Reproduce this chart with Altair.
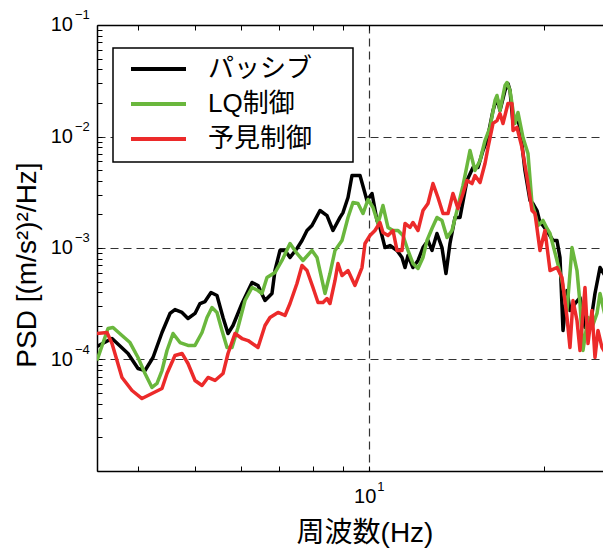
import altair as alt
import pandas as pd

# PSD of vertical acceleration for three control cases.
# Values are stored as log10(frequency [Hz]) and log10(PSD [(m/s^2)^2/Hz]).
series_names = ["パッシブ", "LQ制御", "予見制御"]
series_colors = ["#000000", "#6ab73d", "#ec2a2a"]

passive_logf = [0.5305, 0.5564, 0.5840, 0.6012, 0.6133, 0.6271, 0.6426, 0.6564, 0.6650, 0.6771,
                0.6874, 0.6995, 0.7081, 0.7167, 0.7271, 0.7374, 0.7478, 0.7564, 0.7650, 0.7805,
                0.7978, 0.8081, 0.8202, 0.8322, 0.8374, 0.8460, 0.8547, 0.8633, 0.8753, 0.8840,
                0.8926, 0.9012, 0.9150, 0.9271, 0.9374, 0.9495, 0.9547, 0.9633, 0.9702, 0.9840,
                0.9960, 1.0047, 1.0133, 1.0184, 1.0271, 1.0357, 1.0478, 1.0564, 1.0616, 1.0667,
                1.0753, 1.0840, 1.0926, 1.1012, 1.1081, 1.1167, 1.1253, 1.1322, 1.1391, 1.1478,
                1.1564, 1.1684, 1.1788, 1.1874, 1.1960, 1.2029, 1.2133, 1.2202, 1.2253, 1.2340,
                1.2391, 1.2426, 1.2478, 1.2547, 1.2598, 1.2684, 1.2771, 1.2822, 1.2891, 1.2943,
                1.2995, 1.3081, 1.3167, 1.3236, 1.3288, 1.3340, 1.3409, 1.3460, 1.3547, 1.3633,
                1.3719, 1.3805, 1.3891, 1.3978, 1.4064]
passive_logp = [-3.883, -3.812, -3.946, -4.081, -4.099, -3.982, -3.758, -3.587, -3.552, -3.578,
                -3.632, -3.587, -3.498, -3.480, -3.399, -3.426, -3.623, -3.767, -3.695, -3.498,
                -3.309, -3.336, -3.471, -3.408, -3.202, -3.022, -3.022, -3.085, -3.004, -2.933,
                -2.843, -2.798, -2.664, -2.709, -2.843, -2.726, -2.682, -2.547, -2.350, -2.350,
                -2.574, -2.511, -2.753, -2.816, -2.996, -2.978, -3.022, -3.085, -3.175, -3.067,
                -3.175, -3.112, -2.996, -2.933, -3.022, -2.870, -2.996, -3.229, -2.960, -2.726,
                -2.726, -2.395, -2.278, -2.278, -2.126, -2.036, -1.767, -1.650, -1.767, -1.587,
                -1.525, -1.587, -1.883, -1.830, -1.919, -2.305, -2.574, -2.601, -2.664, -2.771,
                -2.798, -2.861, -2.933, -2.933, -3.085, -3.740, -3.381, -3.561, -3.498, -3.444,
                -3.713, -3.713, -3.408, -3.175, -3.247]

lq_logf = [0.5305, 0.5495, 0.5581, 0.5736, 0.5874, 0.6012, 0.6133, 0.6253, 0.6340, 0.6426,
           0.6512, 0.6616, 0.6736, 0.6874, 0.6995, 0.7116, 0.7202, 0.7288, 0.7374, 0.7460,
           0.7547, 0.7633, 0.7736, 0.7857, 0.7978, 0.8081, 0.8150, 0.8236, 0.8374, 0.8495,
           0.8633, 0.8753, 0.8857, 0.9012, 0.9098, 0.9236, 0.9322, 0.9409, 0.9529, 0.9633,
           0.9719, 0.9805, 0.9891, 0.9978, 1.0064, 1.0150, 1.0236, 1.0322, 1.0409, 1.0495,
           1.0581, 1.0667, 1.0753, 1.0840, 1.0926, 1.0995, 1.1081, 1.1167, 1.1253, 1.1340,
           1.1426, 1.1512, 1.1616, 1.1702, 1.1736, 1.1822, 1.1909, 1.1995, 1.2081, 1.2167,
           1.2202, 1.2253, 1.2340, 1.2374, 1.2426, 1.2512, 1.2564, 1.2650, 1.2736, 1.2805,
           1.2857, 1.2909, 1.2995, 1.3064, 1.3116, 1.3236, 1.3322, 1.3409, 1.3495, 1.3581,
           1.3633, 1.3684, 1.3771, 1.3840, 1.3926, 1.3978, 1.4064]
lq_logp = [-4.009, -3.722, -3.713, -3.785, -3.848, -3.982, -4.126, -4.251, -4.215, -4.099,
           -3.919, -3.767, -3.848, -3.874, -3.874, -3.758, -3.623, -3.534, -3.578, -3.740,
           -3.892, -3.892, -3.713, -3.471, -3.354, -3.381, -3.408, -3.265, -3.220, -3.112,
           -2.960, -3.049, -3.112, -3.022, -3.085, -3.408, -3.229, -3.022, -2.933, -2.726,
           -2.592, -2.601, -2.691, -2.565, -2.637, -2.780, -2.619, -2.816, -2.843, -2.843,
           -2.888, -3.022, -3.139, -3.184, -3.085, -2.933, -2.825, -2.726, -2.753, -2.906,
           -2.843, -2.664, -2.439, -2.215, -2.126, -2.305, -2.215, -2.036, -1.919, -1.677,
           -1.632, -1.767, -1.543, -1.516, -1.587, -1.883, -1.785, -2.009, -2.152, -2.601,
           -2.691, -2.798, -2.753, -2.825, -2.870, -3.112, -3.291, -3.561, -2.996, -3.202,
           -3.498, -3.919, -3.623, -3.713, -3.587, -3.408, -3.605]

preview_logf = [0.5305, 0.5478, 0.5564, 0.5736, 0.5909, 0.6081, 0.6253, 0.6426, 0.6512, 0.6650,
                0.6771, 0.6874, 0.6995, 0.7116, 0.7219, 0.7340, 0.7478, 0.7564, 0.7684, 0.7805,
                0.7909, 0.8081, 0.8202, 0.8288, 0.8426, 0.8547, 0.8633, 0.8753, 0.8840, 0.8926,
                0.9029, 0.9116, 0.9202, 0.9271, 0.9322, 0.9409, 0.9460, 0.9529, 0.9633, 0.9753,
                0.9874, 0.9926, 1.0012, 1.0098, 1.0184, 1.0236, 1.0322, 1.0409, 1.0478, 1.0564,
                1.0616, 1.0702, 1.0753, 1.0840, 1.0926, 1.1012, 1.1098, 1.1184, 1.1271, 1.1357,
                1.1443, 1.1529, 1.1616, 1.1684, 1.1771, 1.1822, 1.1909, 1.1995, 1.2047, 1.2133,
                1.2202, 1.2253, 1.2305, 1.2391, 1.2460, 1.2478, 1.2547, 1.2633, 1.2719, 1.2805,
                1.2857, 1.2943, 1.3029, 1.3116, 1.3236, 1.3322, 1.3409, 1.3460, 1.3512, 1.3581,
                1.3633, 1.3719, 1.3771, 1.3840, 1.3891, 1.3943, 1.4012, 1.4064]
preview_logp = [-3.767, -3.758, -3.857, -4.161, -4.278, -4.350, -4.305, -4.260, -4.126, -3.964,
                -3.946, -4.036, -4.188, -4.233, -4.161, -4.188, -4.126, -3.946, -3.767, -3.812,
                -3.830, -3.892, -3.695, -3.623, -3.578, -3.605, -3.498, -3.318, -3.157, -3.202,
                -3.354, -3.489, -3.489, -3.453, -3.498, -3.291, -3.139, -3.247, -3.202, -3.336,
                -3.175, -2.960, -2.888, -2.843, -2.771, -2.861, -2.888, -2.843, -3.022, -3.022,
                -2.780, -2.816, -2.771, -2.843, -2.664, -2.601, -2.422, -2.547, -2.691, -2.691,
                -2.511, -2.646, -2.511, -2.395, -2.422, -2.350, -2.413, -2.242, -2.099, -1.883,
                -1.857, -1.794, -1.883, -1.704, -1.704, -1.946, -1.919, -2.099, -2.368, -2.664,
                -2.691, -3.022, -2.843, -3.202, -3.175, -3.265, -3.623, -3.892, -3.471, -3.650,
                -3.919, -3.354, -3.857, -3.561, -3.982, -3.740, -3.892, -3.937]

# axis limits and tick positions
x_limits = [3.3925, 25.29]
y_limits = [1e-5, 1e-1]
x_ticks = [4, 5, 6, 7, 8, 9, 10, 20]
y_ticks = [m * 10.0 ** e for e in range(-5, -1) for m in range(1, 10)] + [0.1]
y_label_exps = [-1, -2, -3, -4]
x_label_exps = [1]

frames = []
for name, lf, lp in zip(series_names,
                        [passive_logf, lq_logf, preview_logf],
                        [passive_logp, lq_logp, preview_logp]):
    assert len(lf) == len(lp)
    frames.append(pd.DataFrame({
        "series": name,
        "freq": [10.0 ** v for v in lf],
        "psd": [10.0 ** v for v in lp],
    }))
df = pd.concat(frames, ignore_index=True)

W, H = 506, 446
FONT = "Liberation Sans, Arial, Noto Sans CJK JP"
INWARD = {"expr": "-5"}

xscale = alt.Scale(type="log", domain=x_limits, nice=False)
yscale = alt.Scale(type="log", domain=y_limits, nice=False)
color_scale = alt.Scale(domain=series_names, range=series_colors)

is_decade = "abs(log(datum.value)/LN10 - round(log(datum.value)/LN10)) < 0.000001"

bottom_axis = alt.Axis(
    orient="bottom", values=x_ticks, labels=False, title=None,
    domainColor="black", domainWidth=1.5,
    tickColor="black", tickWidth=1, tickSize=INWARD,
    grid=True, gridColor="#333333", gridWidth=1.2, gridDash=[8, 5],
    gridOpacity={"condition": {"test": "datum.value == 10", "value": 1}, "value": 0},
)
top_axis = alt.Axis(
    orient="top", values=x_ticks, labels=False, title=None, grid=False,
    domainColor="black", domainWidth=1.5,
    tickColor="black", tickWidth=1, tickSize=INWARD,
)
left_axis = alt.Axis(
    orient="left", values=y_ticks, labels=False, title=None,
    domainColor="black", domainWidth=1.5,
    tickColor="black", tickWidth=1, tickSize=INWARD,
    grid=True, gridColor="#333333", gridWidth=1.2, gridDash=[8, 5],
    gridOpacity={"condition": {"test": is_decade, "value": 1}, "value": 0},
)

lines = alt.Chart(df).mark_line(strokeWidth=3.5, clip=True, strokeJoin="round").encode(
    x=alt.X("freq:Q", scale=xscale, axis=bottom_axis),
    y=alt.Y("psd:Q", scale=yscale, axis=left_axis),
    color=alt.Color("series:N", scale=color_scale, legend=None),
)

top_frame = alt.Chart(pd.DataFrame({"freq": x_limits})).mark_rule(opacity=0).encode(
    x=alt.X("freq:Q", scale=xscale, axis=top_axis),
)

# tick labels in the 10^n form
ylab_df = pd.DataFrame({"v": [10.0 ** e for e in y_label_exps],
                        "exp": ["\u2212" + str(-e) for e in y_label_exps]})
ylab_base = alt.Chart(ylab_df).mark_text(align="right", baseline="middle", font=FONT,
                                         fontSize=20).encode(
    y=alt.Y("v:Q", scale=yscale, axis=None), x=alt.value(-24), text=alt.value("10"))
ylab_exp = alt.Chart(ylab_df).mark_text(align="left", baseline="middle", font=FONT,
                                        fontSize=13, dy=-10).encode(
    y=alt.Y("v:Q", scale=yscale, axis=None), x=alt.value(-22), text="exp:N")

xlab_df = pd.DataFrame({"v": [10.0 ** e for e in x_label_exps],
                        "exp": [str(e) for e in x_label_exps]})
xlab_base = alt.Chart(xlab_df).mark_text(align="right", baseline="middle", font=FONT,
                                         fontSize=20, dx=7).encode(
    x=alt.X("v:Q", scale=xscale, axis=None), y=alt.value(H + 26), text=alt.value("10"))
xlab_exp = alt.Chart(xlab_df).mark_text(align="left", baseline="middle", font=FONT,
                                        fontSize=13, dx=8, dy=-10).encode(
    x=alt.X("v:Q", scale=xscale, axis=None), y=alt.value(H + 26), text="exp:N")

# axis titles
one = pd.DataFrame({"k": [0]})
x_title = alt.Chart(one).mark_text(align="center", baseline="middle", font=FONT,
                                   fontSize=28).encode(
    x=alt.value(268), y=alt.value(H + 63), text=alt.value("周波数(Hz)"))
y_title = alt.Chart(one).mark_text(align="center", baseline="middle", font=FONT,
                                   fontSize=28, angle=270).encode(
    x=alt.value(-69), y=alt.value(240), text=alt.value("PSD [(m/s²)²/Hz]"))

# legend box
legend_box = alt.Chart(one).mark_rect(fill="white", stroke="black", strokeWidth=1.5).encode(
    x=alt.value(16), x2=alt.value(256), y=alt.value(23), y2=alt.value(137))
legend_layers = [legend_box]
for i, (name, col) in enumerate(zip(series_names, series_colors)):
    yy = 44 + 35 * i
    legend_layers.append(
        alt.Chart(one).mark_rule(strokeWidth=4, color=col).encode(
            x=alt.value(34), x2=alt.value(89), y=alt.value(yy)))
    legend_layers.append(
        alt.Chart(one).mark_text(align="left", baseline="middle", font=FONT,
                                 fontSize=26, color="black").encode(
            x=alt.value(111), y=alt.value(yy), text=alt.value(name)))

chart = alt.layer(
    lines, top_frame, ylab_base, ylab_exp, xlab_base, xlab_exp, x_title, y_title,
    *legend_layers,
).resolve_axis(x="independent", y="independent").properties(
    width=W, height=H,
    padding={"left": 97, "top": 25, "right": 0, "bottom": 77},
    autosize=alt.AutoSizeParams(type="none"),
    background="white",
).configure_view(strokeWidth=0)

chart.save("out.html", embed_options={"renderer": "svg", "actions": False})
